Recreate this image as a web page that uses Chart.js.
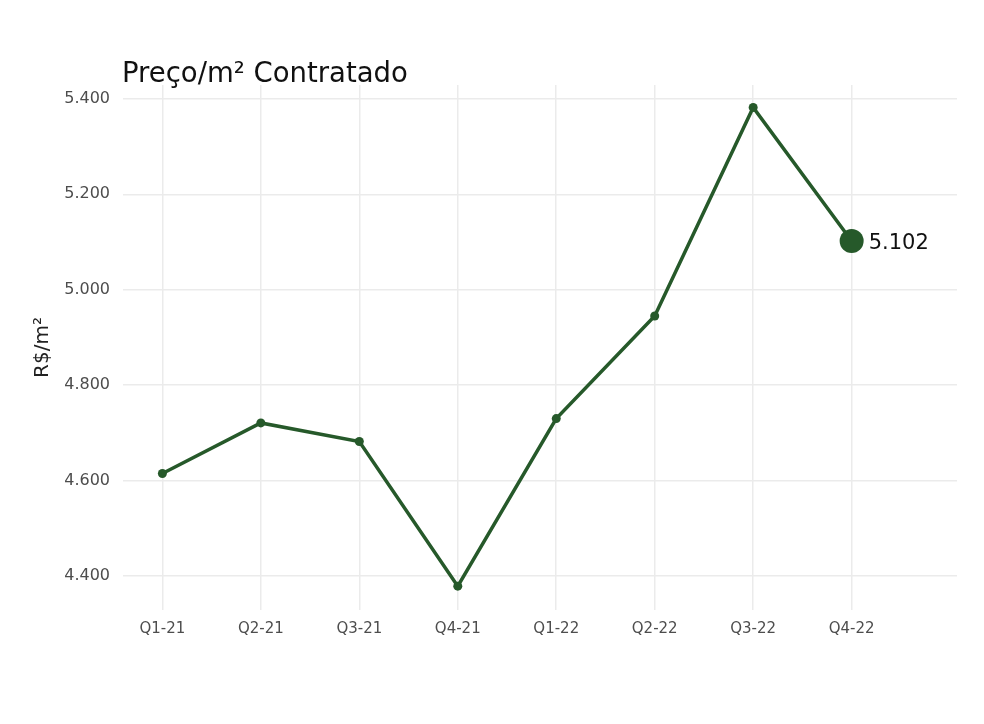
<!DOCTYPE html>
<html>
<head>
<meta charset="utf-8">
<script src="https://cdn.jsdelivr.net/npm/chart.js@4.4.1/dist/chart.umd.min.js"></script>
<style>
html,body{margin:0;padding:0;background:#fff;}
#wrap{width:984px;height:724px;position:relative;}
</style>
</head>
<body>
<div id="wrap"><canvas id="c"></canvas></div>
<script>
const categories = ['Q1-21','Q2-21','Q3-21','Q4-21','Q1-22','Q2-22','Q3-22','Q4-22'];
const prices = [4615, 4721, 4682, 4379, 4730, 4945, 5382, 5102];
const yTickValues = [4400, 4600, 4800, 5000, 5200, 5400];
const chartTitle = 'Preço/m² Contratado';
const yTitle = 'R$/m²';

const FONT = "'DejaVu Sans', sans-serif";
const GREEN = '#26592a';

function fmt(v){
  return String(Math.round(v)).replace(/\B(?=(\d{3})+(?!\d))/g, '.');
}

const points = prices.map((v,i)=>({x:i+1, y:v}));
const lastIdx = prices.length-1;

const overlay = {
  id:'overlay',
  afterDraw(chart){
    const ctx = chart.ctx;
    const ca = chart.chartArea;
    ctx.save();
    ctx.fillStyle = '#111';
    ctx.font = "27.5px " + FONT;
    ctx.textBaseline = 'alphabetic';
    ctx.textAlign = 'left';
    ctx.fillText(chartTitle, ca.left - 1, 82);
    const xs = chart.scales.x, ys = chart.scales.y;
    const px = xs.getPixelForValue(lastIdx+1), py = ys.getPixelForValue(prices[lastIdx]);
    ctx.font = "21px " + FONT;
    ctx.textBaseline = 'middle';
    ctx.fillText(fmt(prices[lastIdx]), px + 17, py + 2);
    ctx.restore();
  }
};

new Chart(document.getElementById('c'), {
  type:'line',
  data:{
    datasets:[{
      data: points,
      borderColor: GREEN,
      backgroundColor: GREEN,
      borderWidth: 3.5,
      pointRadius: prices.map((v,i)=> i===lastIdx ? 12 : 4.5),
      pointBorderWidth: 0,
      pointBackgroundColor: GREEN,
      tension: 0
    }]
  },
  options:{
    responsive:true,
    maintainAspectRatio:false,
    animation:false,
    layout:{padding:{top:85,left:0,right:27,bottom:0}},
    plugins:{legend:{display:false}, tooltip:{enabled:false}},
    scales:{
      x:{
        type:'linear',
        min:0.6, max:9.07,
        afterBuildTicks(s){ s.ticks = categories.map((c,i)=>({value:i+1})); },
        afterFit(s){ s.height = 114; },
        grid:{color:'#ebebeb', lineWidth:1.5, drawTicks:false},
        border:{display:false},
        ticks:{
          callback:(v)=> categories[v-1] || '',
          color:'#4d4d4d', font:{family:FONT, size:15}, padding:10, maxRotation:0, autoSkip:false
        }
      },
      y:{
        min:4329, max:5429,
        afterBuildTicks(s){ s.ticks = yTickValues.map(v=>({value:v})); },
        afterFit(s){ s.width = 123; },
        grid:{color:'#ebebeb', lineWidth:1.5, drawTicks:false},
        border:{display:false},
        ticks:{
          callback:(v)=> fmt(v),
          color:'#4d4d4d', font:{family:FONT, size:16}, padding:13
        },
        title:{display:true, text:yTitle, color:'#222', font:{family:FONT, size:20}, padding:{top:31,bottom:0}}
      }
    }
  },
  plugins:[overlay]
});
</script>
</body>
</html>
